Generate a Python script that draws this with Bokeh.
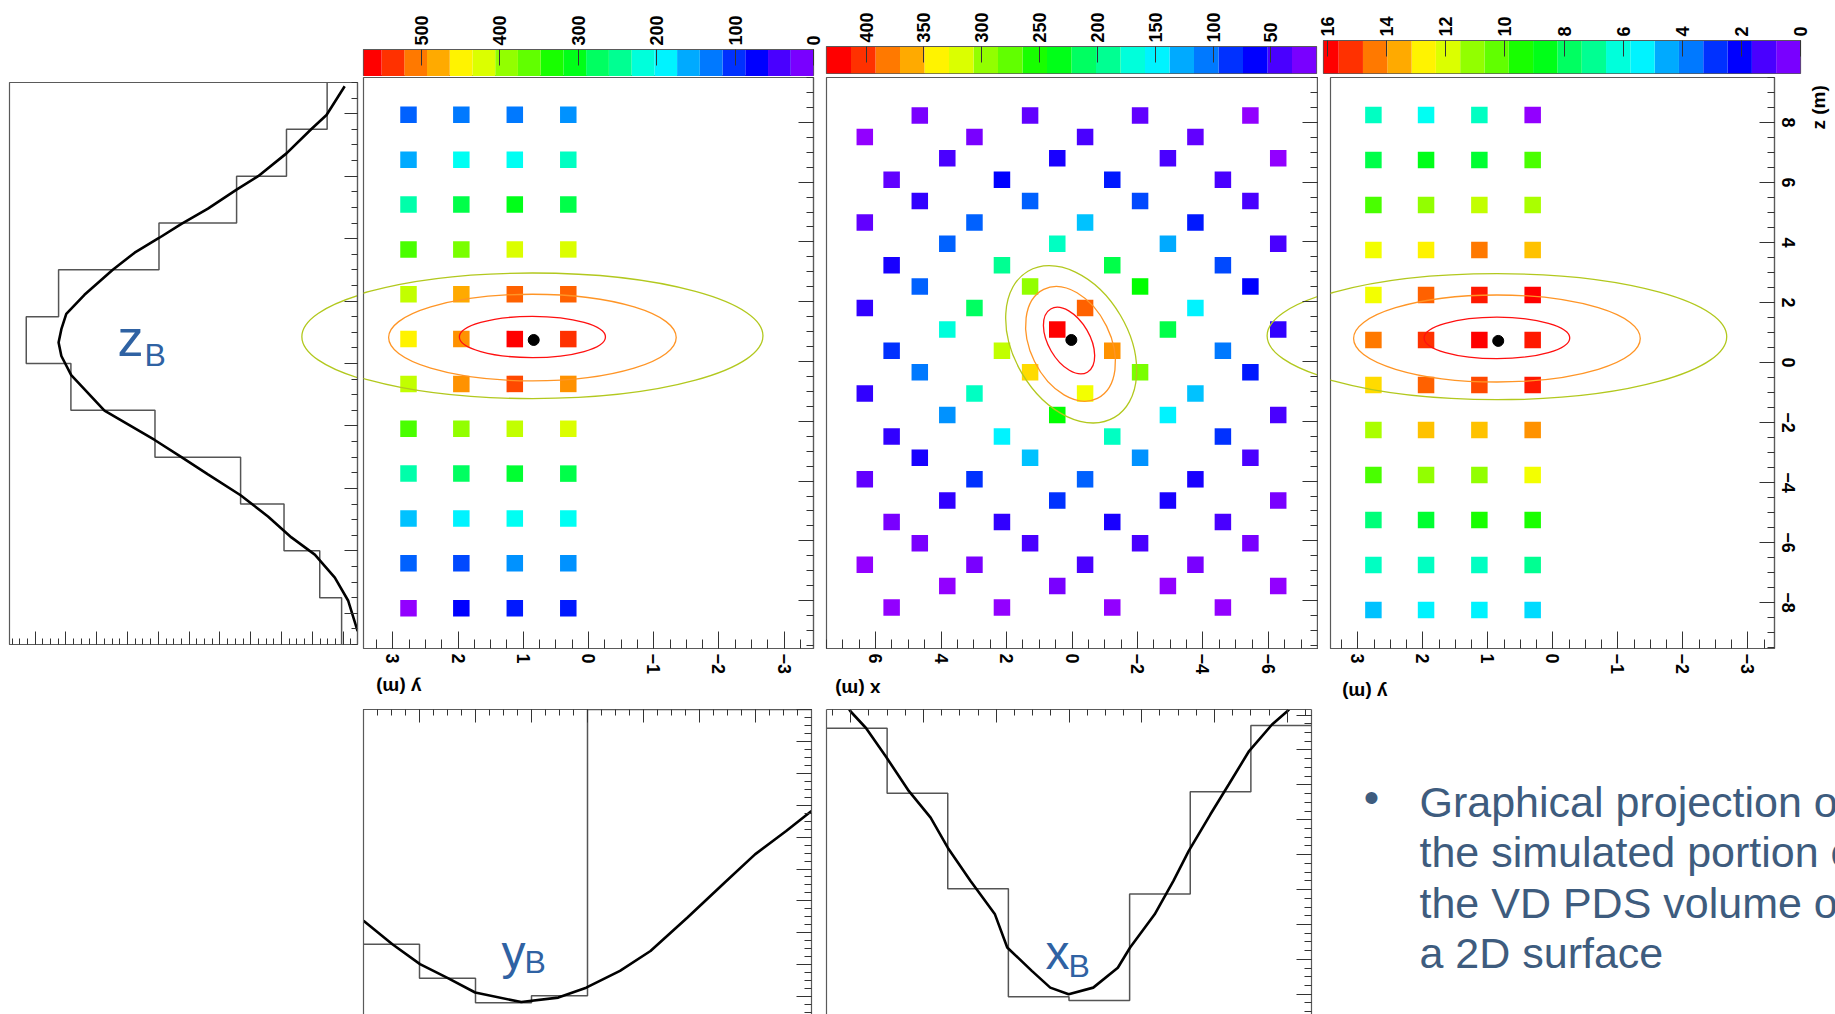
import math
from bokeh.plotting import figure
from bokeh.layouts import row, column
from bokeh.models import (Range1d, LinearAxis, SingleIntervalTicker, FixedTicker,
                          Label, ColumnDataSource, LinearColorMapper)
from bokeh.embed import file_html
from bokeh.resources import INLINE

# ---------------------------------------------------------------- data
# module grid of the two y-z views (m)
yz_cols = [2.76, 1.95, 1.13, 0.31]
yz_rows = [8.25, 6.75, 5.25, 3.75, 2.25, 0.75, -0.75, -2.25, -3.75, -5.25, -6.75, -8.25]

# light seen by each module, left y-z view (rows top->bottom)
yz_a_vals = [
    [133, 145, 145, 157],
    [168, 209, 209, 238],
    [255, 290, 319, 296],
    [360, 389, 435, 435],
    [424, 493, 528, 528],
    [458, 505, 574, 551],
    [424, 505, 534, 505],
    [360, 400, 424, 435],
    [255, 284, 307, 296],
    [180, 203, 215, 215],
    [133, 122, 157, 157],
    [17, 87, 99, 99],
]
# light seen by each module, right y-z view
yz_c_vals = [
    [6.7, 6.1, 6.7, 0.5],
    [8.4, 9.05, 8.7, 10.5],
    [10.5, 11.35, 12.0, 11.7],
    [12.8, 13.0, 14.6, 13.8],
    [12.8, 15.0, 15.8, 16.3],
    [14.6, 15.6, 16.3, 16.0],
    [13.3, 15.0, 15.15, 15.8],
    [11.7, 13.8, 13.65, 14.2],
    [10.3, 11.35, 11.35, 12.8],
    [7.7, 8.7, 9.6, 9.8],
    [6.7, 6.7, 6.8, 7.3],
    [5.0, 5.7, 5.7, 5.4],
]

# staggered module grid of the x-z view
xz_cols = [6.33, 5.51, 4.65, 3.81, 2.98, 2.14, 1.28, 0.45, -0.40, -1.23,
           -2.08, -2.93, -3.77, -4.61, -5.45, -6.30]
xz_rows = [8.23, 7.51, 6.80, 6.08, 5.37, 4.65, 3.94, 3.22, 2.51, 1.79, 1.07, 0.36,
           -0.36, -1.07, -1.79, -2.51, -3.22, -3.94, -4.65, -5.37, -6.08, -6.80, -7.51, -8.23]
xz_slots = [
    [2, 6, 10, 14], [0, 4, 8, 12], [3, 7, 11, 15], [1, 5, 9, 13],
    [2, 6, 10, 14], [0, 4, 8, 12], [3, 7, 11, 15], [1, 5, 9, 13],
    [2, 6, 10, 14], [0, 4, 8, 12], [3, 7, 11, 15], [1, 5, 9, 13],
    [2, 6, 10, 14], [0, 4, 8, 12], [3, 7, 11, 15], [1, 5, 9, 13],
    [2, 6, 10, 14], [0, 4, 8, 12], [3, 7, 11, 15], [1, 5, 9, 13],
    [2, 6, 10, 14], [0, 4, 8, 12], [3, 7, 11, 15], [1, 5, 9, 13],
]
xz_vals = [
    [30, 40, 40, 20], [20, 35, 48, 40], [48, 66, 50, 20], [40, 74, 82, 48],
    [57, 108, 100, 48], [40, 108, 145, 82], [108, 188, 133, 48], [66, 201, 227, 100],
    [108, 303, 248, 74], [57, 218, 396, 159], [176, 430, 227, 57], [91, 320, 379, 116],
    [116, 353, 294, 82], [57, 184, 340, 142], [125, 248, 163, 49], [57, 159, 184, 91],
    [66, 142, 125, 49], [40, 91, 108, 66], [57, 91, 66, 32], [32, 57, 66, 48],
    [32, 49, 49, 32], [20, 32, 48, 32], [20, 32, 20, 20], [20, 20, 20, 20],
]

# colour scales: (minimum, level width, maximum) and their tick labels
scale_a = (0.0, 29.0, 574.0)
scale_b = (10.5, 21.19, 434.3)
scale_c = (0.0, 0.8225, 16.14)
ticks_a = [0, 100, 200, 300, 400, 500]
ticks_b = [50, 100, 150, 200, 250, 300, 350, 400]
ticks_c = [0, 2, 4, 6, 8, 10, 12, 14, 16]

# reconstructed vertex
best_x, best_y, best_z = 0.02, 0.84, 0.72

# likelihood contours in the y-z views
yz_cont_y = [0.86, 0.86, 0.86]
yz_cont_z = [0.82, 0.80, 0.86]
yz_cont_w = [2.24, 4.41, 7.07]
yz_cont_h = [1.38, 2.90, 4.20]
# likelihood contours in the x-z view
xz_cont_x = [0.09, 0.045, 0.025]
xz_cont_z = [0.70, 0.59, 0.575]
xz_cont_w = [2.234, 3.711, 5.19]
xz_cont_h = [1.385, 2.684, 3.825]
xz_cont_ang = [120.1, 116.2, 120.6]
cont_colors = ["#ff1010", "#ff9526", "#b2c81e"]

# projections
zb_edges = [9.0, 7.5, 6.0, 4.5, 3.0, 1.5, 0.0, -1.5, -3.0, -4.5, -6.0, -7.5, -9.0]
zb_counts = [152, 284, 446, 698, 1024, 1129, 984, 711, 433, 292, 176, 105]
zb_fit_z = [8.88, 7.96, 7.51, 6.73, 6.0, 5.57, 4.96, 4.47, 4.02, 3.55, 3.0, 2.20, 1.59,
            1.10, 0.67, 0.24, -0.37, -1.51, -2.45, -3.0, -3.55, -4.22, -4.90, -5.57,
            -6.12, -6.86, -7.59, -8.57]
zb_fit_c = [95, 154, 203, 284, 376, 446, 539, 625, 698, 777, 848, 940, 999,
            1015, 1024, 1015, 983, 875, 712, 625, 539, 433, 344, 268,
            192, 127, 84, 53]

yb_edges = [3.45, 2.5875, 1.725, 0.8625, 0.0, -0.8625, -1.725, -2.5875, -3.45]
yb_counts = [736, 842, 919, 897, 0, 0, 0, 0]
yb_fit_y = [3.45, 3.005, 2.58, 2.15, 1.73, 1.02, 0.45, 0.02, -0.50, -0.97, -1.54,
            -2.11, -2.58, -3.06, -3.45]
yb_fit_c = [662, 736, 798, 842, 887, 917, 903, 872, 819, 757, 652, 543, 454, 381, 318]

xb_edges = [7.5, 5.625, 3.75, 1.875, 0.0, -1.875, -3.75, -5.625, -7.5]
xb_counts = [54, 240, 514, 823, 834, 529, 236, 46]
xb_fit_x = [7.0, 6.76, 6.28, 5.67, 4.95, 4.28, 3.75, 3.05, 2.29, 1.91, 1.15, 0.58, 0.01,
            -0.75, -1.51, -1.89, -2.65, -3.23, -3.70, -4.37, -4.94, -5.57, -6.28, -6.75, -7.1]
xb_fit_c = [-30, 5, 53, 134, 234, 310, 396, 491, 587, 682, 749, 797, 816,
            797, 740, 682, 587, 491, 406, 301, 215, 119, 43, 5, -30]

bullet_lines = ["Graphical projection of", "the simulated portion of",
                "the VD PDS volume on", "a 2D surface"]

# ---------------------------------------------------------------- style
FONT = "Liberation Sans"
AXIS_COL = "#333333"
FRAME_COL = "#5a5a5a"
NAME_COL = "#2f62a3"
TEXT_COL = "#3e5c7e"
TICK_FONT = "18px"
TITLE_FONT = "19px"


def hue_hex(h):
    x = 1 - abs((h / 60.0) % 2 - 1)
    if h < 60:
        r, g, b = 1, x, 0
    elif h < 120:
        r, g, b = x, 1, 0
    elif h < 180:
        r, g, b = 0, 1, x
    elif h < 240:
        r, g, b = 0, x, 1
    else:
        r, g, b = x, 0, 1
    return "#%02x%02x%02x" % (round(r * 255), round(g * 255), round(b * 255))


# rainbow palette (violet -> red) and the 20 contour levels picked from it
palette50 = [hue_hex(280.0 * (1 - j / 49.0)) for j in range(50)]
palette20 = [palette50[int((k + 0.99) * 2.5)] for k in range(20)]

# z range shared by the three 2D views (30 px per metre)
Z_TOP = 9.5
PX_M_Z = 30.0


def make_fig(w, h, xr, yr, left, right, top, bottom, xloc=None, yloc=None, outline=True):
    p = figure(width=w, height=h, x_range=xr, y_range=yr, output_backend="svg",
               toolbar_location=None, x_axis_location=xloc, y_axis_location=yloc,
               min_border_left=left, min_border_right=right,
               min_border_top=top, min_border_bottom=bottom)
    p.frame_align = False
    p.grid.visible = False
    p.background_fill_color = "white"
    p.border_fill_color = "white"
    if outline:
        p.outline_line_color = FRAME_COL
        p.outline_line_width = 1.2
    else:
        p.outline_line_color = None
    return p


def style_axis(ax, ticker, tick_in, minor_in, labels, standoff=5, size=TICK_FONT):
    ax.ticker = ticker
    ax.major_tick_in = tick_in
    ax.major_tick_out = 0
    ax.minor_tick_in = minor_in
    ax.minor_tick_out = 0
    ax.axis_line_color = FRAME_COL
    ax.axis_line_width = 1.2
    ax.major_tick_line_color = AXIS_COL
    ax.minor_tick_line_color = AXIS_COL
    if labels:
        ax.major_label_orientation = "vertical"
        ax.major_label_text_font = FONT
        ax.major_label_text_font_style = "bold"
        ax.major_label_text_font_size = size
        ax.major_label_text_color = "black"
        ax.major_label_standoff = standoff
    else:
        ax.major_label_text_font_size = "0px"
        ax.major_label_standoff = 0


def colorbar_fig(w, h, left, right, top, bottom, scale, ticks):
    zmin, band, zmax = scale
    p = make_fig(w, h, Range1d(zmax, zmin), Range1d(0, 1), left, right, top, bottom,
                 xloc="above", yloc=None)
    lefts = [zmin + k * band for k in range(20)]
    rights = [min(zmin + (k + 1) * band, zmax) for k in range(20)]
    p.quad(left=lefts, right=rights, bottom=0, top=1, fill_color=palette20, line_color=None)
    style_axis(p.xaxis[0], FixedTicker(ticks=ticks, minor_ticks=[]), 16, 0, True, standoff=4)
    return p


def grid_source(xs_by_row, zs, vals):
    xs, ys, vs = [], [], []
    for r, zv in enumerate(zs):
        for c, xv in enumerate(xs_by_row[r]):
            xs.append(xv)
            ys.append(zv)
            vs.append(vals[r][c])
    return ColumnDataSource(dict(x=xs, z=ys, v=vs))


def panel_fig(w, h, left, right, top, bottom, xr, zr, x_int, z_labels):
    p = make_fig(w, h, xr, zr, left, right, top, bottom, xloc="below", yloc="right")
    style_axis(p.xaxis[0], SingleIntervalTicker(interval=x_int, num_minor_ticks=4), 17, 9, True)
    style_axis(p.yaxis[0], SingleIntervalTicker(interval=2, num_minor_ticks=4), 15, 7,
               z_labels, standoff=7)
    return p


def range_at(r0, r1, p0, p1, q0, q1):
    # values of a linear px->data map (p0->r0, p1->r1) at pixels q0, q1
    k = (r1 - r0) / (p1 - p0)
    return r0 + (q0 - p0) * k, r0 + (q1 - p0) * k


def text_strip(w, h):
    # plain canvas in pixel units, used for axis titles
    return make_fig(w, h, Range1d(0, w), Range1d(0, h), 0, 0, 0, 0, outline=False)


def axis_title(p, x, y, text, angle):
    p.add_layout(Label(x=x, y=y, text=text, angle=angle, text_align="left",
                       text_baseline="middle", text_font=FONT, text_font_style="bold",
                       text_font_size=TITLE_FONT, text_color="black"))


def name_label(p, x, y, text, size):
    p.add_layout(Label(x=x, y=y, text=text, text_font=FONT, text_font_size=size,
                       text_baseline="alphabetic", text_color=NAME_COL))


# ---------------------------------------------------------------- frames (canvas px)
# columns: A 0..361, B 361..823, C 823..1318, D 1318..1835
FA = (363, 813, 77, 650)
FB = (826, 1317, 77, 650)
FC = (1330, 1774, 77, 648)
FZ = (9, 357, 82, 644)
ya_range = (3.45, -3.45)
yc_range = (3.42, -3.41)
xb_range = (7.5, -7.5)
PANEL_H = 601          # canvas rows 76..677
STRIP_H = 28           # canvas rows 677..705


def z_range(frame):
    return (Z_TOP - (frame[3] - frame[2]) / PX_M_Z, Z_TOP)


# ---------------------------------------------------------------- left y-z view
cb_a = colorbar_fig(462, 76, 2, 10, 49, 0, scale_a, ticks_a)
za = z_range(FA)
pa = panel_fig(462, PANEL_H, 2, 10, 1, 27, Range1d(*ya_range), Range1d(*za), 1, False)
map_a = LinearColorMapper(palette=palette50, low=scale_a[0], high=scale_a[0] + 20 * scale_a[1])
src_a = grid_source([yz_cols] * len(yz_rows), yz_rows, yz_a_vals)
pa.scatter("x", "z", source=src_a, marker="square", size=16.5,
           fill_color={"field": "v", "transform": map_a}, line_color=None)
pa.ellipse(x=yz_cont_y, y=yz_cont_z, width=yz_cont_w, height=yz_cont_h,
           fill_color=None, line_color=cont_colors, line_width=1.3)
pa.scatter([best_y], [best_z], marker="circle", size=11, color="black")
st_a = text_strip(462, STRIP_H)
axis_title(st_a, 60, 705 - 687, "y (m)", math.pi)

# ---------------------------------------------------------------- x-z view
cb_b = colorbar_fig(495, 76, 3, 2, 46, 3, scale_b, ticks_b)
zb = z_range(FB)
pb = panel_fig(495, PANEL_H, 3, 1, 1, 27, Range1d(*xb_range), Range1d(*zb), 2, False)
map_b = LinearColorMapper(palette=palette50, low=scale_b[0], high=scale_b[0] + 20 * scale_b[1])
src_b = grid_source([[xz_cols[i] for i in s] for s in xz_slots], xz_rows, xz_vals)
pb.scatter("x", "z", source=src_b, marker="square", size=16.5,
           fill_color={"field": "v", "transform": map_b}, line_color=None)
pb.ellipse(x=xz_cont_x, y=xz_cont_z, width=xz_cont_w, height=xz_cont_h,
           angle=xz_cont_ang, angle_units="deg",
           fill_color=None, line_color=cont_colors, line_width=1.3)
pb.scatter([best_x], [best_z], marker="circle", size=11, color="black")
st_b = text_strip(495, STRIP_H)
axis_title(st_b, 880 - 823, 705 - 689, "x (m)", math.pi)

# ---------------------------------------------------------------- right y-z view
cb_c = colorbar_fig(517, 76, 5, 35, 40, 3, scale_c, ticks_c)
zc = z_range(FC)
pc = panel_fig(489, PANEL_H, 12, 33, 1, 29, Range1d(*yc_range), Range1d(*zc), 1, True)
map_c = LinearColorMapper(palette=palette50, low=scale_c[0], high=scale_c[0] + 20 * scale_c[1])
src_c = grid_source([yz_cols] * len(yz_rows), yz_rows, yz_c_vals)
pc.scatter("x", "z", source=src_c, marker="square", size=16.5,
           fill_color={"field": "v", "transform": map_c}, line_color=None)
pc.ellipse(x=yz_cont_y, y=yz_cont_z, width=yz_cont_w, height=yz_cont_h,
           fill_color=None, line_color=cont_colors, line_width=1.3)
pc.scatter([best_y], [best_z], marker="circle", size=11, color="black")
st_c = text_strip(517, STRIP_H)
axis_title(st_c, 1387 - 1318, 705 - 692, "y (m)", math.pi)
st_z = text_strip(28, PANEL_H)
axis_title(st_z, 11, PANEL_H - (129 - 76), "z (m)", math.pi / 2)

# outer contour of the right view reaches into the x-z frame
pb.extra_x_ranges = {"yc": Range1d(*range_at(yc_range[0], yc_range[1], FC[0], FC[1], FB[0], FB[1]))}
pb.ellipse(x=yz_cont_y[2:], y=yz_cont_z[2:], width=yz_cont_w[2:], height=yz_cont_h[2:],
           x_range_name="yc", fill_color=None, line_color=cont_colors[2:], line_width=1.3)

# ---------------------------------------------------------------- z projection
zr_c = (1183.4, 53.4)
pz = make_fig(361, 1014, Range1d(*zr_c), Range1d(-9, 9), FZ[0], 361 - FZ[1],
              FZ[2], 1014 - FZ[3], xloc="below", yloc="right")
style_axis(pz.xaxis[0], SingleIntervalTicker(interval=100, num_minor_ticks=4), 13, 6, False)
style_axis(pz.yaxis[0], SingleIntervalTicker(interval=2, num_minor_ticks=4), 13, 6, False)
zx, zy = [], []
for i, c in enumerate(zb_counts):
    zx += [c, c]
    zy += [zb_edges[i], zb_edges[i + 1]]
pz.line(zx, zy, line_color="#555555", line_width=1.5)
pz.line(zb_fit_c, zb_fit_z, line_color="black", line_width=2.6)
# outer contour of the left view reaches into this frame
pz.extra_x_ranges = {"ya": Range1d(*range_at(ya_range[0], ya_range[1], FA[0], FA[1], FZ[0], FZ[1]))}
pz.extra_y_ranges = {"za": Range1d(*range_at(za[0], za[1], FA[3], FA[2], FZ[3], FZ[2]))}
pz.ellipse(x=yz_cont_y[2:], y=yz_cont_z[2:], width=yz_cont_w[2:], height=yz_cont_h[2:],
           x_range_name="ya", y_range_name="za",
           fill_color=None, line_color=cont_colors[2:], line_width=1.3)
zc_k = (zr_c[0] - zr_c[1]) / (FZ[1] - FZ[0])
zz_k = 18.0 / (FZ[3] - FZ[2])
name_label(pz, zr_c[0] - (117 - FZ[0]) * zc_k, 9 - (337 - FZ[2]) * zz_k, "z", "52px")
name_label(pz, zr_c[0] - (144 - FZ[0]) * zc_k, 9 - (354 - FZ[2]) * zz_k, "B", "32px")


# ---------------------------------------------------------------- y and x projections
def proj_fig(w, left, right, xr, cmax, x_ticks, count_ticks, edges, counts, fit_x, fit_c):
    p = make_fig(w, 309, Range1d(*xr), Range1d(cmax, 0), left, right, 4, 0,
                 xloc="above", yloc="right", outline=False)
    style_axis(p.xaxis[0], x_ticks, 13, 6, False)
    style_axis(p.yaxis[0], count_ticks, 15, 7, False)
    lax = LinearAxis()
    style_axis(lax, FixedTicker(ticks=[]), 0, 0, False)
    p.add_layout(lax, "left")
    hx, hy = [], []
    for i, c in enumerate(counts):
        hx += [edges[i], edges[i + 1]]
        hy += [c, c]
    p.line(hx, hy, line_color="#555555", line_width=1.5)
    p.line(fit_x, fit_c, line_color="black", line_width=2.6)
    return p


py_ = proj_fig(462, 2, 12, ya_range, 956,
               SingleIntervalTicker(interval=0.8625, num_minor_ticks=4),
               SingleIntervalTicker(interval=100, num_minor_ticks=4),
               yb_edges, yb_counts, yb_fit_y, yb_fit_c)
name_label(py_, 3.45 - (501 - 363) / 64.93, (953 - 709) / 0.32, "y", "48px")
name_label(py_, 3.45 - (524 - 363) / 64.93, (962 - 709) / 0.32, "B", "32px")

xb_ticks = FixedTicker(ticks=[16 + 100 * k for k in range(9)],
                       minor_ticks=[16 + 25 * k for k in range(35)])
px_ = proj_fig(495, 3, 7, xb_range, 874,
               SingleIntervalTicker(interval=2.25, num_minor_ticks=4), xb_ticks,
               xb_edges, xb_counts, xb_fit_x, xb_fit_c)
name_label(px_, 7.5 - (1045 - 826) / 32.33, (953 - 709) / 0.35, "x", "48px")
name_label(px_, 7.5 - (1068 - 826) / 32.33, (966 - 709) / 0.35, "B", "32px")

# ---------------------------------------------------------------- description
pt = make_fig(517, 309, Range1d(0, 517), Range1d(0, 309), 0, 0, 0, 0, outline=False)
pt.add_layout(Label(x=1371 - 1318, y=309 - 92, text="\u2022", text_font=FONT,
                    text_align="center", text_baseline="alphabetic",
                    text_font_size="44px", text_color=TEXT_COL))
for i, line in enumerate(bullet_lines):
    pt.add_layout(Label(x=1419 - 1318, y=309 - 96 - 50.5 * i, text=line, text_font=FONT,
                        text_baseline="alphabetic", text_font_size="43px",
                        text_color=TEXT_COL))

layout = row(
    pz,
    column(cb_a, pa, st_a, py_),
    column(cb_b, pb, st_b, px_),
    column(cb_c, row(pc, st_z), st_c, pt),
)

open("out.html", "w").write(file_html(layout, INLINE))
